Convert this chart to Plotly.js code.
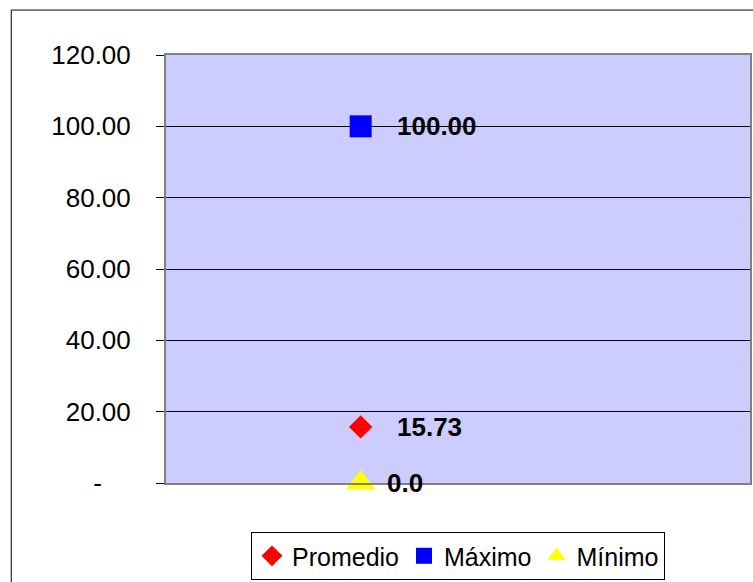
<!DOCTYPE html>
<html>
<head>
<meta charset="utf-8">
<script src="https://cdn.plot.ly/plotly-3.0.1.min.js"></script>
<style>
  html, body { margin: 0; padding: 0; background: #ffffff; }
  #chart { width: 753px; height: 582px; }
</style>
</head>
<body>
<div id="chart"></div>
<script>
// Chart data
const seriesNames = ['Promedio', 'Máximo', 'Mínimo'];
const seriesValues = [15.73, 100.00, 0.0];
const valueLabels = ['15.73', '100.00', '0.0'];
const category = [1];

const yTickVals = [0, 20, 40, 60, 80, 100, 120];
const yTickText = ['-\u00a0\u00a0\u00a0\u00a0', '20.00', '40.00', '60.00', '80.00', '100.00', '120.00'];

// Marker styles per series
const markerSymbols = ['diamond', 'square', 'triangle-up'];
const markerColors = ['#ff0000', '#0000ff', '#ffff00'];
const markerSizes = [18, 22, 26];
const labelShift = [34, 34, 24];

const traces = seriesNames.map((name, i) => ({
    x: category,
    y: [seriesValues[i]],
    type: 'scatter',
    mode: 'markers',
    name: name,
    cliponaxis: false,
    marker: {
        symbol: markerSymbols[i],
        color: markerColors[i],
        size: markerSizes[i],
        line: { width: 0 }
    },
    hovertemplate: name + ': %{y:.2f}<extra></extra>'
}));

// Value labels next to each marker
const annotations = seriesNames.map((name, i) => ({
    x: category[0],
    y: seriesValues[i],
    xref: 'x',
    yref: 'y',
    text: valueLabels[i],
    showarrow: false,
    xanchor: 'left',
    yanchor: 'middle',
    xshift: labelShift[i],
    font: { size: 26, color: '#000000', weight: 'bold' }
}));

const layout = {
    width: 753,
    height: 582,
    margin: { l: 166, r: 3, t: 55, b: 98 },
    paper_bgcolor: '#ffffff',
    plot_bgcolor: '#ccccff',
    font: { family: 'Liberation Sans, Arial, sans-serif', size: 26, color: '#000000' },
    showlegend: true,
    legend: {
        orientation: 'h',
        x: 0.5,
        xanchor: 'center',
        y: -0.112,
        yanchor: 'top',
        bordercolor: '#000000',
        borderwidth: 1,
        bgcolor: '#ffffff',
        font: { size: 25 },
        itemwidth: 30,
        tracegroupgap: 0
    },
    xaxis: {
        range: [0.5, 2],
        showticklabels: false,
        ticks: '',
        showgrid: false,
        zeroline: false,
        showline: true,
        linecolor: '#808080',
        linewidth: 2,
        mirror: true,
        fixedrange: true
    },
    yaxis: {
        range: [0, 120],
        tickvals: yTickVals,
        ticktext: yTickText,
        ticks: 'outside',
        ticklen: 8,
        tickcolor: '#000000',
        ticklabelstandoff: 20,
        showgrid: true,
        gridcolor: '#000000',
        gridwidth: 1,
        zeroline: false,
        showline: true,
        linecolor: '#808080',
        linewidth: 2,
        mirror: true,
        fixedrange: true
    },
    annotations: annotations,
    shapes: [{
        // outer chart frame
        type: 'rect',
        xref: 'paper',
        yref: 'paper',
        x0: -0.265,
        x1: 1.2,
        y0: -0.4,
        y1: 1.105,
        line: { color: '#000000', width: 1 },
        fillcolor: 'rgba(0,0,0,0)',
        layer: 'below'
    }]
};

Plotly.newPlot('chart', traces, layout, { displayModeBar: false, staticPlot: true });
</script>
</body>
</html>
